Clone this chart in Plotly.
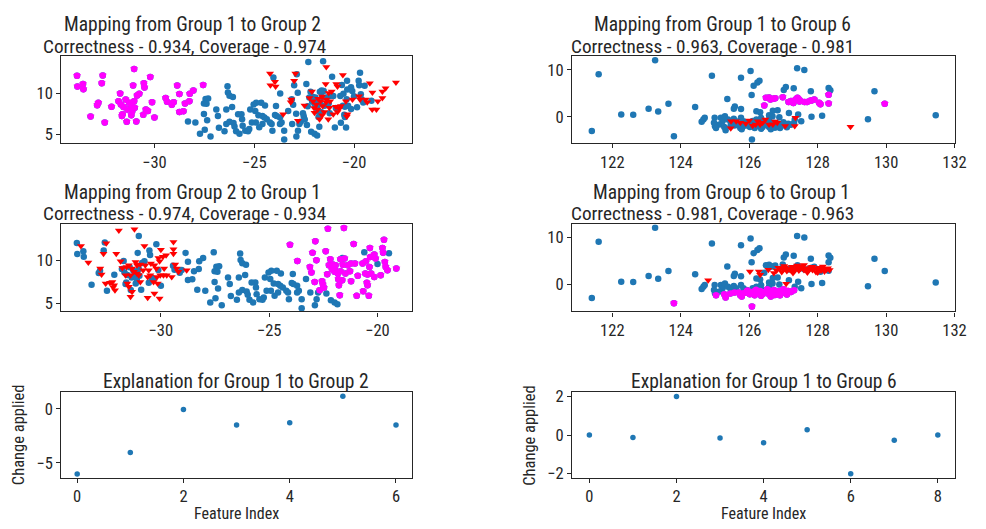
import plotly.graph_objects as go

# ---------------- data ----------------
# Left panels (Group 1 <-> Group 2)
g1_x = [-33.88,-33.86,-33.58,-33.56,-32.59,-32.64,-31.02,-30.21,-31.07,-30.53,-30.50,-31.72,-30.76,-30.87,-31.44,-31.80,-32.81,-32.87,-32.15,-31.68,-31.55,-31.27,-31.16,-31.02,-31.35,-31.11,-30.99,-31.60,-31.63,-31.16,-30.56,-30.43,-30.33,-30.12,-30.00,-33.20,-32.49,-31.39,-30.91,-29.44,-29.37,-29.04,-29.13,-28.86,-28.75,-28.47,-28.25,-28.23,-28.05,-27.56,-28.75,-28.55]
g1_y = [12.09,10.79,11.10,10.47,12.13,11.18,12.91,11.93,10.91,11.18,10.67,9.96,9.92,9.72,9.21,9.02,8.82,8.54,8.35,8.62,8.31,8.82,8.43,9.02,8.03,7.83,8.23,7.44,7.24,7.32,7.40,8.03,7.83,8.90,7.05,7.17,6.46,6.54,6.57,9.41,8.94,8.90,8.58,10.91,9.88,8.74,9.02,9.92,10.31,10.98,7.72,7.80]

g2_x = [-22.29,-21.55,-24.04,-22.87,-21.10,-19.70,-20.35,-19.77,-23.00,-22.39,-23.70,-22.82,-22.18,-21.71,-21.52,-21.94,-21.60,-21.37,-21.22,-21.04,-20.69,-20.53,-20.34,-20.15,-20.09,-19.74,-19.66,-19.62,-23.12,-23.05,-22.24,-22.32,-22.10,-21.98,-21.83,-21.71,-21.48,-21.27,-20.91,-20.56,-20.46,-20.30,-20.15,-19.85,-19.54,-19.13,-20.37,-22.90,-22.56,-22.52,-22.47,-21.81,-21.63,-21.22,-21.78,-20.49,-20.46,-21.74,-20.96,-20.66,-20.40,-21.98,-22.06,-22.67]
g2_y = [13.75,13.83,11.88,12.27,11.96,12.46,11.49,11.49,10.94,11.10,9.96,10.04,10.16,10.16,10.24,9.46,9.53,9.46,9.65,9.65,9.65,9.93,10.43,10.71,10.24,10.94,9.85,9.26,9.26,8.60,9.46,8.40,8.98,8.68,8.48,8.75,8.48,8.75,8.21,8.48,8.36,8.48,8.09,8.29,8.87,9.07,9.26,7.50,7.58,7.19,6.80,7.82,7.70,7.58,7.11,7.39,7.11,5.94,5.86,6.41,5.86,9.07,9.54,6.53]

other_x = [-26.34,-26.32,-26.24,-26.07,-27.44,-27.31,-27.52,-27.39,-26.90,-26.40,-26.11,-26.82,-27.52,-27.36,-28.32,-27.95,-26.77,-26.40,-26.24,-26.04,-25.99,-27.48,-27.72,-27.19,-26.49,-25.91,-25.74,
           -24.46,-24.65,-24.90,-25.03,-25.20,-24.95,-24.79,-24.59,-24.49,-24.37,-24.59,-24.75,-24.92,-25.12,-25.25,-25.45,-25.58,-25.64,-25.61,-25.31,-24.21,-24.13,-24.09,-25.81,
           -23.91,-23.30,-23.71,-23.63,-23.71,-23.50,-23.50,-23.10,-22.74,-22.89,-22.81,-22.15,-21.98,-21.85,-23.96,-23.88,-22.36,
           -20.61,-21.62,-19.47,-20.00]
other_y = [10.83,10.08,9.69,9.53,9.29,9.33,8.74,8.70,8.03,8.03,8.31,7.24,7.48,6.73,6.57,6.46,5.83,6.26,6.54,6.38,5.98,5.59,5.08,4.76,5.39,5.39,5.08,
           8.50,8.82,8.82,8.62,8.03,7.83,7.32,7.24,7.05,6.85,6.26,5.87,6.46,6.46,5.67,5.47,6.06,7.44,6.85,5.39,6.46,6.26,5.47,7.44,
           8.43,7.83,7.05,6.46,6.26,5.47,4.41,6.26,6.26,4.76,5.47,5.35,5.08,4.88,7.36,7.24,6.14,
           10.98,10.31,10.87,9.61]

red12_x = [-24.21,-22.94,-21.39,-20.56,-24.19,-23.93,-23.96,-23.00,-21.42,-20.89,-20.83,-19.21,-19.08,-18.42,-18.58,-17.90,-22.11,-21.12,-21.27,-21.39,-22.23,-22.06,-21.90,-21.68,-21.57,-21.82,-21.49,-21.98,-21.60,-21.24,-20.91,-20.74,-20.66,-20.83,-21.04,-23.17,-23.14,-22.48,-20.41,-19.75,-19.70,-19.42,-19.34,-18.81,-18.58,-19.09,-18.88,-23.55,-22.81,-21.73,-21.29,-20.33,-20.36,-20.08,-21.80,-21.40,-22.00,-21.20,-21.60]
red12_y = [12.36,12.36,13.15,12.17,10.94,10.79,11.38,11.50,11.10,11.10,10.79,11.18,10.08,10.59,10.20,11.26,10.20,10.20,10.00,9.21,9.41,9.02,8.62,9.02,8.43,8.03,7.72,7.64,7.32,8.23,8.35,8.11,8.43,7.72,7.44,8.90,9.21,8.50,9.02,9.61,9.21,9.21,8.90,9.02,9.41,8.03,8.03,7.44,6.65,6.85,6.85,7.44,7.17,9.21,9.30,8.90,8.20,9.00,9.60]

red21_x = [-33.69,-33.35,-32.52,-32.65,-32.06,-31.94,-31.22,-30.76,-30.00,-29.91,-29.76,-29.42,-29.42,-29.42,-32.80,-32.74,-32.55,-32.24,-32.16,-32.12,-32.20,-31.86,-31.78,-31.59,-31.48,-31.33,-31.17,-31.10,-30.95,-30.72,-30.82,-30.56,-31.25,-31.40,-31.63,-31.55,-31.48,-31.40,-31.10,-30.95,-31.02,-30.61,-30.46,-30.30,-30.11,-30.06,-30.21,-30.49,-30.34,-30.18,-30.15,-30.03,-29.88,-29.85,-29.73,-29.50,-29.34,-29.27,-29.19,-28.81,-30.61,-30.30,-30.06,-31.33,-32.35]
red21_y = [11.72,9.77,12.04,10.82,10.82,13.56,13.68,11.72,11.29,10.47,10.63,12.19,11.33,10.82,9.07,8.36,7.31,7.50,7.11,6.53,6.88,9.93,9.14,9.26,9.46,9.07,9.85,9.46,9.54,9.46,8.87,8.87,8.68,8.29,8.29,7.31,6.92,5.75,8.48,7.50,8.29,8.09,9.65,9.46,10.32,9.93,9.07,8.29,7.50,8.09,7.31,8.29,8.29,9.07,8.29,8.09,9.54,9.07,8.68,8.87,5.63,6.14,5.55,6.33,7.39]

# Right panels (Group 1 <-> Group 6)
r_other_x = [121.40,121.60,122.26,122.61,123.06,123.25,123.34,123.64,124.42,128.32,128.37,128.13,127.82,129.47,129.66,131.45,127.40,127.61,127.80,
             124.91,126.04,125.76,126.24,126.30,125.36,126.07,125.58,125.55,125.76,127.01,127.07,127.30,126.21,126.32,126.58,126.69,126.83,127.16,127.43,
             127.52,126.88,126.68,124.99,124.66,124.61,124.70,124.97,125.17,125.22,125.29,125.38,125.55,125.62,125.76,125.83,126.21,126.35,126.58,126.39,
             127.33,125.92,125.46,125.13,126.13,125.00,126.10]
r_other_y = [-3.01,9.10,0.49,0.42,1.75,12.10,1.12,2.80,2.10,6.16,5.67,0.21,0.00,-0.49,5.46,0.35,10.36,10.00,5.46,
             8.75,9.80,8.33,7.35,7.70,3.78,4.68,2.23,1.74,1.67,5.73,6.36,6.08,1.18,0.97,0.34,1.32,1.39,0.83,0.48,
             -0.92,-0.08,0.13,-0.22,-0.57,-1.06,-0.22,-1.27,-0.22,-0.92,0.13,-0.57,-0.43,-0.92,-0.22,-0.92,-0.57,-0.22,-0.57,-1.27,
             -0.57,-1.27,-1.27,-1.62,6.65,-2.00,-0.90]

r_g1_x = [126.44,126.49,126.58,126.70,126.76,126.98,127.15,127.29,127.35,127.41,127.47,127.47,127.62,127.69,127.78,127.82,127.90,128.04,128.08,128.32,128.32,129.96,127.22,126.62]
r_g1_y = [2.44,4.06,4.13,3.85,3.99,4.20,3.15,2.93,3.63,4.06,3.57,3.28,3.15,3.14,3.42,3.50,3.71,3.01,2.66,4.69,2.87,2.80,3.40,3.70]

r_g6_x = [123.80,126.08,125.03,125.27,125.31,125.57,125.74,125.83,125.92,126.02,126.11,126.16,126.25,126.32,126.39,126.47,126.53,126.58,126.66,126.72,126.79,126.86,126.94,127.00,127.07,127.14,127.22,127.31,125.78,125.69,126.35,126.63,126.20,126.90,127.10,125.45,126.75,125.95]
r_g6_y = [-4.15,-4.84,-2.39,-2.18,-2.88,-1.83,-2.39,-1.97,-1.83,-2.18,-1.69,-2.39,-1.83,-1.48,-2.18,-1.69,-1.13,-2.18,-1.69,-1.27,-1.97,-1.48,-1.83,-1.13,-1.97,-1.48,-1.69,-1.34,-2.67,-1.83,-2.53,-2.67,-1.20,-2.40,-2.25,-2.05,-2.35,-1.40]

red16_x = [125.47,125.62,125.74,125.46,126.00,126.19,126.32,126.39,126.47,126.58,126.69,126.82,127.05,127.35,127.33,126.25,128.96,125.90,126.10,126.75]
red16_y = [-0.92,-0.92,-1.27,-2.46,-0.78,-1.62,-1.62,-1.27,-0.57,-1.62,-1.62,-1.27,-1.97,-0.22,-1.97,-0.92,-2.10,-1.40,-1.90,-1.00]

red61_x = [124.80,126.02,126.28,126.32,126.56,126.72,127.08,
           126.80,126.90,126.95,127.00,127.05,127.10,127.15,127.20,127.25,127.30,127.35,127.40,127.45,127.50,127.55,127.60,127.65,127.70,127.75,127.80,
           127.85,127.90,127.95,128.00,128.05,128.10,128.15,128.20,128.25,128.30,128.35,127.40,127.60,127.02,126.85,127.28,127.70,128.00,127.85,128.15]
red61_y = [0.83,2.72,2.72,2.02,3.07,2.37,0.07,
           2.90,3.30,2.60,3.10,3.60,2.80,3.30,3.00,3.70,2.70,3.20,3.50,2.90,3.30,3.80,3.00,3.40,2.70,3.20,3.60,
           3.00,3.30,2.60,3.10,3.50,2.90,3.30,2.70,3.10,3.40,3.00,4.00,4.10,3.90,3.50,2.40,2.50,2.50,3.70,3.80]

# Explanations
exp12_idx = [0, 1, 2, 3, 4, 5, 6]
exp12_val = [-6.05, -4.05, -0.05, -1.48, -1.27, 1.18, -1.48]
exp16_idx = [0, 1, 2, 3, 4, 5, 6, 7, 8]
exp16_val = [0.0, -0.13, 2.0, -0.15, -0.40, 0.27, -2.0, -0.27, 0.0]

titles_top = [("Mapping from Group 1 to Group 2", "Correctness - 0.934, Coverage - 0.974"),
              ("Mapping from Group 1 to Group 6", "Correctness - 0.963, Coverage - 0.981"),
              ("Mapping from Group 2 to Group 1", "Correctness - 0.974, Coverage - 0.934"),
              ("Mapping from Group 6 to Group 1", "Correctness - 0.981, Coverage - 0.963")]
titles_bottom = ["Explanation for Group 1 to Group 2", "Explanation for Group 1 to Group 6"]
x_label = "Feature Index"
y_label = "Change applied"

# ---------------- figure ----------------
W, H = 986, 529
FONT = "Roboto Condensed, Liberation Sans Narrow, DejaVu Sans Condensed, Roboto, sans-serif"
TXT = "#262626"
BLUE, RED, MAG = "#1f77b4", "#ff0000", "#ff00ff"

def px(a, b):
    return [a / W, b / W]

def py(top, bottom):
    return [1 - bottom / H, 1 - top / H]

fig = go.Figure()

def blue(x, y, ax, size=6.5):
    fig.add_trace(go.Scatter(x=x, y=y, mode="markers", xaxis="x" + ax, yaxis="y" + ax,
                             marker=dict(color=BLUE, size=size, line=dict(width=0)), hoverinfo="skip"))

def magenta(x, y, ax):
    fig.add_trace(go.Scatter(x=x, y=y, mode="markers", xaxis="x" + ax, yaxis="y" + ax,
                             marker=dict(color=MAG, size=6.5, line=dict(width=0)), hoverinfo="skip"))
    fig.add_trace(go.Scatter(x=x, y=y, mode="markers", xaxis="x" + ax, yaxis="y" + ax,
                             marker=dict(color=MAG, size=7, symbol="triangle-down", line=dict(width=0)), hoverinfo="skip"))

def red(x, y, ax):
    fig.add_trace(go.Scatter(x=x, y=y, mode="markers", xaxis="x" + ax, yaxis="y" + ax,
                             marker=dict(color=RED, size=7, symbol="triangle-down", line=dict(width=0)), hoverinfo="skip"))

left_all_x = g1_x + g2_x + other_x
left_all_y = g1_y + g2_y + other_y
right_all_x = r_other_x + r_g1_x + r_g6_x
right_all_y = r_other_y + r_g1_y + r_g6_y

# panel 1: top-left (1 -> 2)
blue(left_all_x, left_all_y, "")
magenta(g1_x, g1_y, "")
red(red12_x, red12_y, "")
# panel 2: top-right (1 -> 6)
blue(right_all_x, right_all_y, "2")
magenta(r_g1_x, r_g1_y, "2")
red(red16_x, red16_y, "2")
# panel 3: middle-left (2 -> 1)
blue(left_all_x, left_all_y, "3")
magenta(g2_x, g2_y, "3")
red(red21_x, red21_y, "3")
# panel 4: middle-right (6 -> 1)
blue(right_all_x, right_all_y, "4")
magenta(r_g6_x, r_g6_y, "4")
red(red61_x, red61_y, "4")
# panels 5, 6: explanations
blue(exp12_idx, exp12_val, "5", size=5.5)
blue(exp16_idx, exp16_val, "6", size=5.5)

def axis(domain, rng, anchor, dtick=None, tick0=None, standoff=None):
    d = dict(domain=domain, range=rng, anchor=anchor, showline=True, linecolor=TXT, linewidth=1.2,
             mirror=True, ticks="outside", ticklen=4, tickwidth=1.1, tickcolor=TXT, showgrid=False,
             zeroline=False, tickfont=dict(size=16.5, color=TXT, family=FONT), fixedrange=True)
    if dtick is not None:
        d["dtick"] = dtick
        d["tick0"] = tick0 if tick0 is not None else 0
    if standoff is not None:
        d["ticklabelstandoff"] = standoff
    return d

XL = px(62, 417)
XR = px(579, 967)
Y1 = py(52, 141)
Y2 = py(224, 313)
Y3 = py(395, 483)

layout = dict(
    width=W, height=H, margin=dict(l=0, r=0, t=0, b=0), showlegend=False,
    plot_bgcolor="white", paper_bgcolor="white", font=dict(family=FONT, color=TXT),
    xaxis=axis(XL, [-34.67, -17.10], "y", 5),
    yaxis=axis(Y1, [3.97, 14.48], "x", 5),
    xaxis2=axis(XR, [120.82, 132.02], "y2", 2),
    yaxis2=axis(Y1, [-5.6, 13.0], "x2", 10),
    xaxis3=axis(XL, [-34.60, -18.41], "y3", 5),
    yaxis3=axis(Y2, [4.02, 14.27], "x3", 5),
    xaxis4=axis(XR, [120.82, 132.02], "y4", 2),
    yaxis4=axis(Y2, [-5.9, 12.85], "x4", 10),
    xaxis5=axis(XL, [-0.3, 6.3], "y5", 2, standoff=-1),
    yaxis5=axis(Y3, [-6.41, 1.6], "x5", 5),
    xaxis6=axis(XR, [-0.4, 8.4], "y6", 2, standoff=-1),
    yaxis6=axis(Y3, [-2.22, 2.24], "x6", 2),
)
fig.update_layout(**layout)

ann = []
def text(t, cx, cy, size=19.5, angle=0):
    ann.append(dict(text=t, x=cx / W, y=1 - cy / H, xref="paper", yref="paper",
                    xanchor="center", yanchor="middle", showarrow=False, textangle=angle,
                    font=dict(size=size, color=TXT, family=FONT)))

# top-row and middle-row two-line titles
text(titles_top[0][0], 195, 20); text(titles_top[0][1], 187, 42, size=19.2)
text(titles_top[1][0], 731, 20); text(titles_top[1][1], 721, 42, size=19.2)
text(titles_top[2][0], 195, 191); text(titles_top[2][1], 187, 213, size=19.2)
text(titles_top[3][0], 730, 191); text(titles_top[3][1], 721, 213, size=19.2)
text(titles_bottom[0], 239, 384)
text(titles_bottom[1], 773, 384)
# axis titles
text(x_label, 239.5, 519, size=16)
text(x_label, 773, 519, size=16)
text(y_label, 19.5, 439, size=16.5, angle=-90)
text(y_label, 536.5, 439, size=16.5, angle=-90)
fig.update_layout(annotations=ann)

fig.write_html("out.html", config={"displayModeBar": False},
               post_script="document.body.style.margin='0px';document.body.style.overflow='hidden';")
